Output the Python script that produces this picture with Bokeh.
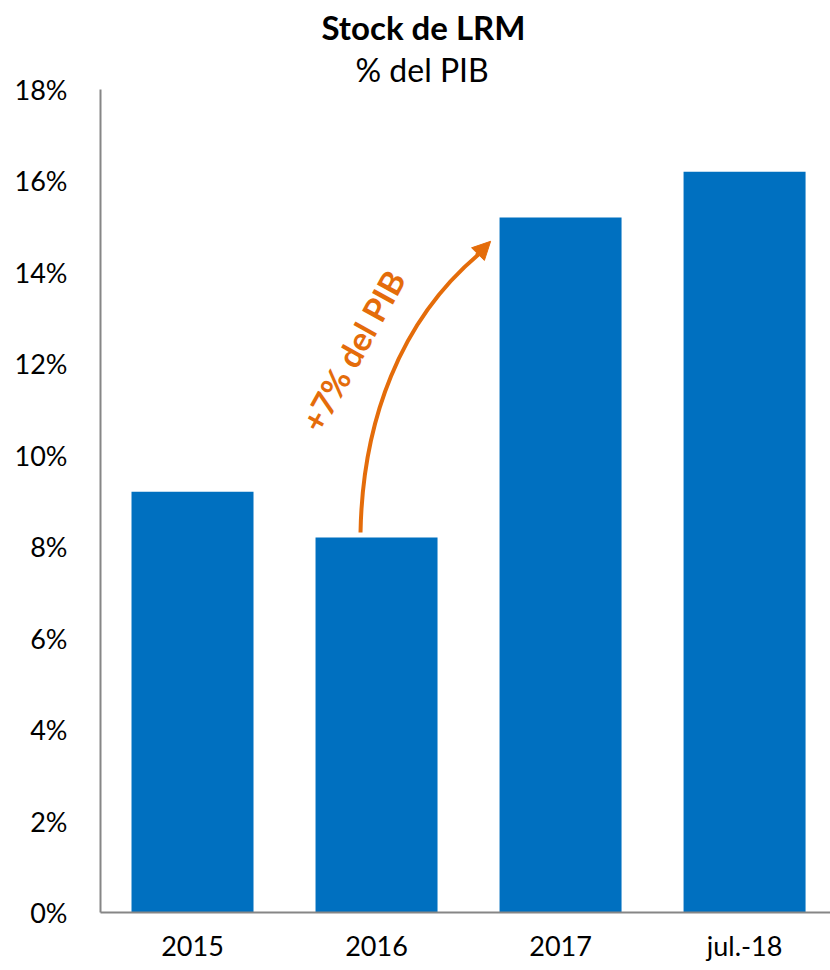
from bokeh.plotting import figure
from bokeh.models import Range1d, FixedTicker, PrintfTickFormatter, Label, Arrow, NormalHead, ColumnDataSource, Title
from bokeh.embed import file_html
from bokeh.resources import INLINE

categories = ["2015", "2016", "2017", "jul.-18"]
values = [9.2, 8.2, 15.2, 16.2]
y_ticks = [0, 2, 4, 6, 8, 10, 12, 14, 16, 18]
title_text = "Stock de LRM"
subtitle_text = "% del PIB"
annotation_text = "+7% del PIB"

BLUE = "#0070C0"
ORANGE = "#E46C0A"
FONT = "Lato"

xs = list(range(len(categories)))
src = ColumnDataSource(dict(x=xs, top=values, cat=categories))

p = figure(frame_width=730, frame_height=823, output_backend="svg", toolbar_location=None,
           x_range=Range1d(-0.5, 3.467), y_range=Range1d(0, 18),
           min_border_left=100, min_border_right=0, min_border_top=89, min_border_bottom=50)
p.title = None
p.outline_line_color = None
p.xgrid.visible = False
p.ygrid.visible = False
p.background_fill_color = "white"
p.border_fill_color = "white"

p.vbar(x="x", top="top", width=0.663, bottom=0, source=src, fill_color=BLUE, line_color=None)

# axes
p.yaxis.ticker = FixedTicker(ticks=y_ticks)
p.yaxis.formatter = PrintfTickFormatter(format="%d%%")
p.xaxis.ticker = FixedTicker(ticks=xs)
p.xaxis.major_label_overrides = {i: c for i, c in zip(xs, categories)}
for ax in (p.xaxis[0], p.yaxis[0]):
    ax.axis_line_color = "#868686"
    ax.axis_line_width = 2
    ax.major_tick_line_color = None
    ax.minor_tick_line_color = None
    ax.major_label_text_font = FONT
    ax.major_label_text_font_size = "27px"
    ax.major_label_text_color = "black"
p.yaxis.major_label_standoff = 27
p.xaxis.major_label_standoff = 10

# titles
sub = Title(text=subtitle_text, text_font=FONT, text_font_style="normal", text_font_size="32px",
            align="left", offset=255, text_color="black", standoff=2)
main = Title(text=title_text, text_font=FONT, text_font_style="bold", text_font_size="33px",
             align="left", offset=221, text_color="black", standoff=0)
p.add_layout(sub, "above")
p.add_layout(main, "above")

# curved arrow anchored on 2016 and 2017 bars
x0, y0 = xs[1] - 0.087, values[1] + 0.11
x3, y3 = xs[2] - 0.446, values[2] - 0.81
p.bezier(x0=[x0], y0=[y0], x1=[x3], y1=[y3],
         cx0=[x0 + 0.011], cy0=[y0 + 2.45], cx1=[x0 + 0.217], cy1=[y0 + 4.64],
         line_color=ORANGE, line_width=4)
p.add_layout(Arrow(x_start=x3 - 0.01, y_start=y3 - 0.02, x_end=x3 + 0.066, y_end=y3 + 0.29,
                   line_color=ORANGE, line_width=4,
                   end=NormalHead(size=18, fill_color=ORANGE, line_color=ORANGE, line_width=1)))
p.add_layout(Label(x=0.870, y=12.29, text=annotation_text, text_font=FONT, text_font_style="bold",
                   text_font_size="33px", text_align="center", text_baseline="middle",
                   angle=1.065, text_color=ORANGE))

open("out.html", "w").write(file_html(p, INLINE))
